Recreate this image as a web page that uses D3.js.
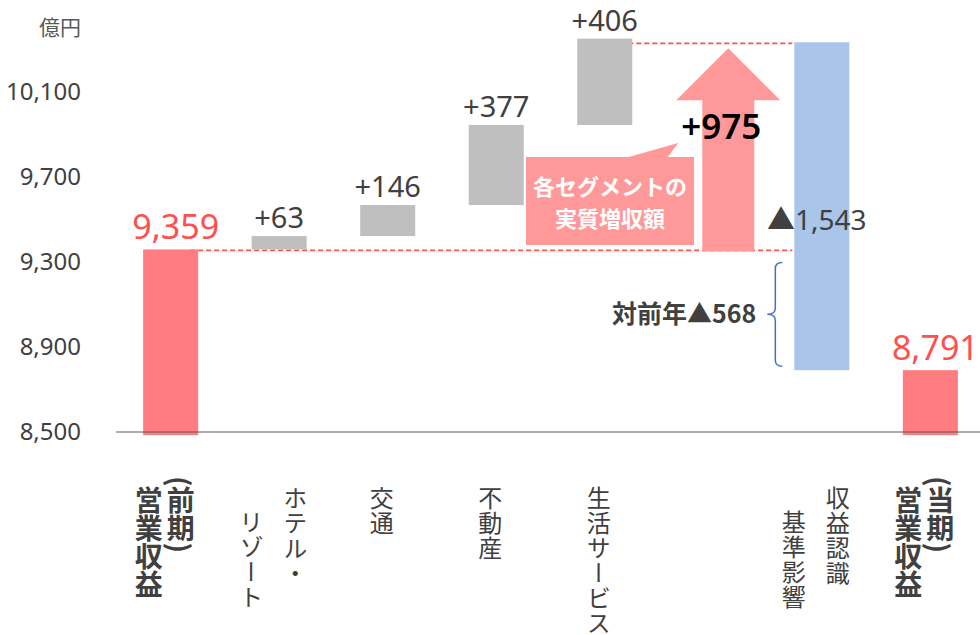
<!DOCTYPE html>
<html lang="ja">
<head>
<meta charset="UTF-8">
<title>営業収益 増減</title>
<script src="https://cdn.jsdelivr.net/npm/d3@7"></script>
<style>
  body { margin: 0; background: #fff; }
  svg { display: block; }
  text { font-family: "Noto Sans", "Noto Sans CJK JP", sans-serif; }
  .jp { font-family: "Noto Sans CJK JP", sans-serif; }
</style>
</head>
<body>
<script>
// --- data ---
var categories = ['前期営業収益', 'ホテル・リゾート', '交通', '不動産', '生活サービス', '実質増収額', '収益認識基準影響', '当期営業収益'];
var labelLines = [['(前期)', '営業収益'], ['ホテル・', 'リゾート'], ['交通'], ['不動産'], ['生活サービス'], [], ['収益認識', '基準影響'], ['(当期)', '営業収益']];
var values = [9359, 63, 146, 377, 406, 975, -1543, 8791];
var valueLabels = ['9,359', '+63', '+146', '+377', '+406', '+975', '▲1,543', '8,791'];
var kinds = ['total', 'seg', 'seg', 'seg', 'seg', 'arrow', 'adj', 'total'];
var yTicks = [8500, 8900, 9300, 9700, 10100];
var yoyLabel = '対前年▲568';
var calloutLines = ['各セグメントの', '実質増収額'];
var unitLabel = '億円';

var w = 980, h = 635;
var base = 8485; // bars start a touch below the axis line

var svg = d3.select('body').append('svg').attr('width', w).attr('height', h);

var x = d3.scaleBand()
  .domain(d3.range(categories.length))
  .range([116, 985])
  .paddingInner(0.493)
  .paddingOuter(0.25);

var y = d3.scaleLinear().domain([8500, 10100]).range([432, 92]);

// compute waterfall extents
var start = values[0];
var running = values[0];
var bars = values.map(function(v, i) {
  var k = kinds[i];
  if (k === 'total') return { i: i, lo: base, hi: v, k: k };
  if (k === 'seg') { var b = { i: i, lo: running, hi: running + v, k: k }; running += v; return b; }
  if (k === 'arrow') return { i: i, lo: start, hi: start + v, k: k };
  // adj: falls from start + real growth down to the current total
  var top = start + values[5];
  return { i: i, lo: top + v, hi: top, k: k };
});

var fills = { total: '#ff7c80', seg: '#bfbfbf', adj: '#a9c5ea' };

// y axis labels
svg.append('g').selectAll('text')
  .data(yTicks).enter().append('text')
  .attr('x', 81).attr('y', function(d) { return y(d); })
  .attr('dy', '0.35em')
  .attr('text-anchor', 'end')
  .attr('font-size', 24)
  .attr('fill', '#404040')
  .text(d3.format(','));

svg.append('text').attr('class', 'jp')
  .attr('x', 81).attr('y', 35)
  .attr('text-anchor', 'end')
  .attr('font-size', 21)
  .attr('fill', '#595959')
  .text(unitLabel);

// dashed guide lines
var adj = bars[6];
svg.append('line')
  .attr('x1', x(0) + x.bandwidth() - 8).attr('x2', x(6) - 2)
  .attr('y1', y(start) + 1).attr('y2', y(start) + 1)
  .attr('stroke', '#ff4f4f').attr('stroke-width', 1.8).attr('stroke-dasharray', '5,3');
svg.append('line')
  .attr('x1', x(4) + x.bandwidth() - 4).attr('x2', x(6) - 2)
  .attr('y1', y(adj.hi) + 1).attr('y2', y(adj.hi) + 1)
  .attr('stroke', '#ff4f4f').attr('stroke-width', 1.8).attr('stroke-dasharray', '5,3');

// bars
svg.append('g').selectAll('rect')
  .data(bars.filter(function(b) { return b.k !== 'arrow'; }))
  .enter().append('rect')
  .attr('x', function(b) { return x(b.i); })
  .attr('y', function(b) { return y(b.hi); })
  .attr('width', x.bandwidth())
  .attr('height', function(b) { return y(b.lo) - y(b.hi); })
  .attr('fill', function(b) { return fills[b.k]; });

// axis line
svg.append('line')
  .attr('x1', 116).attr('x2', w)
  .attr('y1', y(8500)).attr('y2', y(8500))
  .attr('stroke', '#595959').attr('stroke-width', 1.2);

// big arrow for real growth
var ar = bars[5];
var acx = x(5) + x.bandwidth() / 2 + 15;
var aBot = y(ar.lo) + 2, aTip = y(ar.hi) + 6, headH = 52;
svg.append('path')
  .attr('d', d3.line()([
    [acx - 26, aBot], [acx - 26, aTip + headH], [acx - 52, aTip + headH], [acx, aTip],
    [acx + 52, aTip + headH], [acx + 26, aTip + headH], [acx + 26, aBot]
  ]) + 'Z')
  .attr('fill', '#ff9999');

// callout box
var bx = 526, by = 157, bw = 168, bh = 88;
svg.append('rect').attr('x', bx).attr('y', by).attr('width', bw).attr('height', bh).attr('fill', '#ff9999');
svg.append('path')
  .attr('d', d3.line()([[bx + 99, by + 1], [acx - 50, by - 14], [bx + 141, by + 1]]) + 'Z')
  .attr('fill', '#ff9999');
svg.append('g').selectAll('text')
  .data(calloutLines).enter().append('text')
  .attr('class', 'jp')
  .attr('x', bx + bw / 2)
  .attr('y', function(d, i) { return by + 38 + i * 32; })
  .attr('text-anchor', 'middle')
  .attr('font-size', 22).attr('font-weight', 'bold')
  .attr('fill', '#fff')
  .text(function(d) { return d; });

// value labels
svg.append('g').selectAll('text')
  .data(bars.filter(function(b) { return b.k === 'total' || b.k === 'seg'; }))
  .enter().append('text')
  .attr('x', function(b) { return x(b.i) + x.bandwidth() / 2 + (b.k === 'total' ? 5 : 0); })
  .attr('y', function(b) { return y(b.hi) - (b.k === 'total' ? 10 : 8); })
  .attr('text-anchor', 'middle')
  .attr('font-size', function(b) { return b.k === 'total' ? 34 : 29; })
  .attr('fill', function(b) { return b.k === 'total' ? '#ff5050' : '#404040'; })
  .text(function(b) { return valueLabels[b.i]; });

svg.append('text')
  .attr('x', acx - 7).attr('y', 139)
  .attr('text-anchor', 'middle')
  .attr('font-size', 35).attr('font-weight', 600)
  .attr('fill', '#000')
  .text(valueLabels[5]);

svg.append('text')
  .attr('x', x(6) + x.bandwidth() / 2 - 5).attr('y', y(start) - 19)
  .attr('text-anchor', 'middle')
  .attr('font-size', 28)
  .attr('fill', '#404040')
  .text(valueLabels[6]);

// brace for year-on-year change
var bTop = y(start) + 13, bBot = y(values[7]) - 4, bMid = (bTop + bBot) / 2, bxp = x(6) - 19;
svg.append('path')
  .attr('d', 'M' + (bxp + 7) + ',' + bTop + ' Q' + bxp + ',' + bTop + ' ' + bxp + ',' + (bTop + 6) +
    ' L' + bxp + ',' + (bMid - 6) + ' Q' + bxp + ',' + bMid + ' ' + (bxp - 8) + ',' + bMid +
    ' Q' + bxp + ',' + bMid + ' ' + bxp + ',' + (bMid + 6) +
    ' L' + bxp + ',' + (bBot - 6) + ' Q' + bxp + ',' + bBot + ' ' + (bxp + 7) + ',' + bBot)
  .attr('fill', 'none').attr('stroke', '#4472c4').attr('stroke-width', 1.5);

svg.append('text')
  .attr('class', 'jp')
  .attr('x', bxp - 19).attr('y', bMid + 9)
  .attr('text-anchor', 'end')
  .attr('font-size', 25).attr('font-weight', 'bold')
  .attr('fill', '#404040')
  .text(yoyLabel);

// vertical category labels
labelLines.forEach(function(lines, i) {
  if (!lines.length) return;
  var bold = kinds[i] === 'total';
  var gap = bold ? 32 : 44;
  var cx = x(i) + x.bandwidth() / 2 - 6;
  lines.forEach(function(line, j) {
    var colX = cx + (lines.length - 1) / 2 * gap - j * gap;
    var top = bold ? (line.charAt(0) === '(' ? 476 : 486) : 486 + j * 24;
    svg.append('text')
      .attr('class', 'jp')
      .attr('x', colX).attr('y', top)
      .style('writing-mode', 'vertical-rl')
      .attr('font-size', bold ? 28 : 24)
      .attr('font-weight', bold ? 'bold' : 'normal')
      .attr('letter-spacing', bold ? 0 : 1)
      .attr('fill', '#404040')
      .text(line);
  });
});
</script>
</body>
</html>
